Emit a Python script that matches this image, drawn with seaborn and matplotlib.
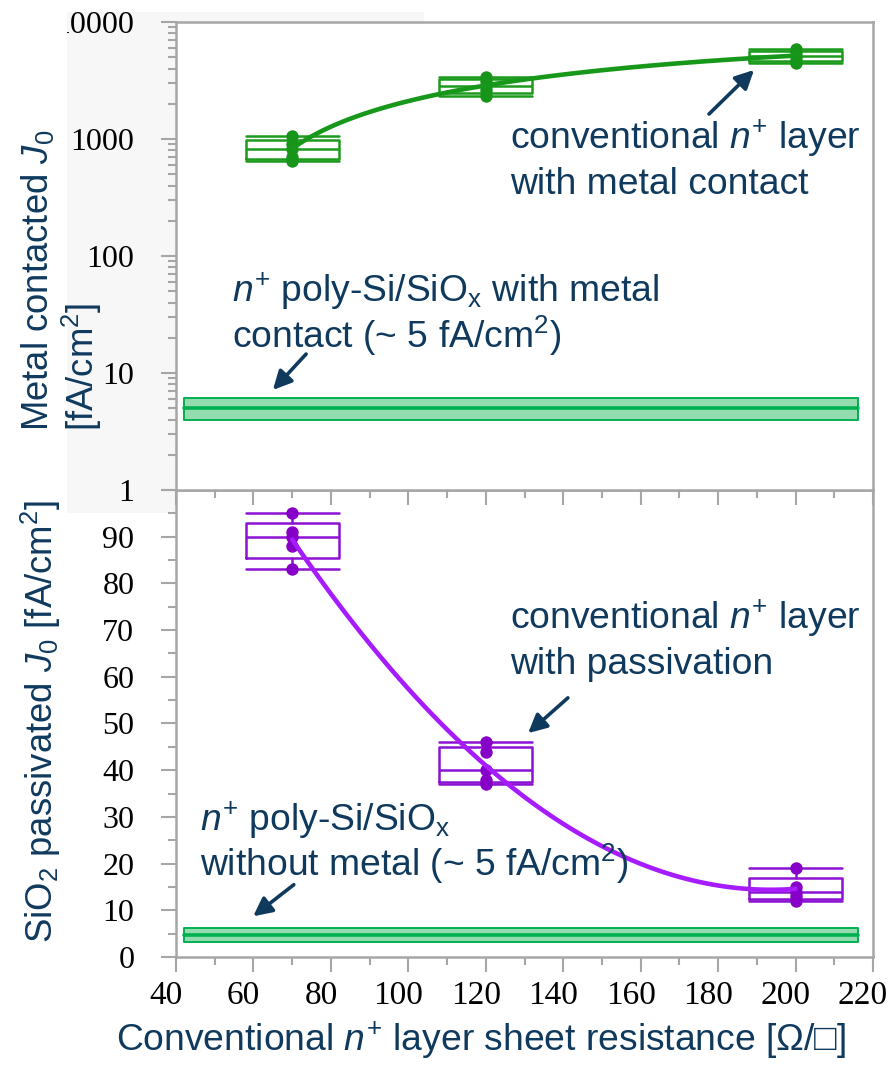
import numpy as np
import pandas as pd
import matplotlib
matplotlib.use("Agg")
import matplotlib.pyplot as plt
import seaborn as sns
from matplotlib.patches import Rectangle, FancyArrowPatch
from matplotlib.ticker import LogLocator, NullFormatter, MultipleLocator
from matplotlib.transforms import Bbox, TransformedBbox, ScaledTranslation

# ---------------------------------------------------------------- data
sheet_res = [70, 120, 200]                       # Ohm/sq
x_ticks = [40, 60, 80, 100, 120, 140, 160, 180, 200, 220]

# metal-contacted J0 of the conventional n+ layer [fA/cm2]
metal_j0_70 = [650, 700, 820, 910, 1060]
metal_j0_120 = [2350, 2600, 2850, 3150, 3400]
metal_j0_200 = [4500, 4750, 5150, 5500, 5900]

# SiO2-passivated J0 of the conventional n+ layer [fA/cm2]
passiv_j0_70 = [83, 88, 90, 91, 95]
passiv_j0_120 = [37, 38, 40, 44, 46]
passiv_j0_200 = [12, 13, 14, 15, 19]

# n+ poly-Si/SiOx reference ranges (low, typical, high) [fA/cm2]
poly_metal = [4.0, 5.0, 6.1]
poly_passiv = [3.2, 4.7, 6.2]
poly_span = [42, 216]

top_yticks = [1, 10, 100, 1000, 10000]
top_ylabels = ["1", "10", "100", "1000", "10000"]
bot_yticks = [0, 10, 20, 30, 40, 50, 60, 70, 80, 90, 100]
bot_ylabels = ["0", "10", "20", "30", "40", "50", "60", "70", "80", "90", ""]

# ---------------------------------------------------------------- style
W, H, DPI = 892, 1071, 100
sns.set_theme(style="white")
plt.rcParams["font.family"] = ["Liberation Sans", "DejaVu Sans"]
plt.rcParams["mathtext.fontset"] = "custom"
plt.rcParams["mathtext.rm"] = "Liberation Sans"
plt.rcParams["mathtext.it"] = "Liberation Sans:italic"
plt.rcParams["mathtext.bf"] = "Liberation Sans:bold"

NAVY = "#0f3a5e"
AXIS_GREY = "#a6a6a6"
GREEN_BOX = "#1c9a1c"
GREEN_DOT = "#17951a"
GREEN_LINE = "#18981a"
BAND_FILL = "#92dcb0"
BAND_EDGE = "#00b050"
PURPLE_BOX = "#8c12d2"
PURPLE_DOT = "#8600c8"
PURPLE_LINE = "#a61cff"
SERIF = "Liberation Serif"
TXT = 26.8        # annotations and x title
YTXT = 26.3       # y titles

fig = plt.figure(figsize=(W / DPI, H / DPI), dpi=DPI)
fig.patch.set_facecolor("white")


def fx(px):
    return px / W


def fy(py):
    return 1 - py / H


# light grey panel behind the upper y axis
grey_box = Rectangle((fx(67), fy(513)), fx(424) - fx(67), fy(12) - fy(513),
                     transform=fig.transFigure, facecolor="#f7f7f7",
                     edgecolor="none", zorder=-5)
fig.patches.append(grey_box)

ax_bot = fig.add_axes([fx(176), fy(957), fx(873) - fx(176), fy(490) - fy(957)])
ax_top = fig.add_axes([fx(176), fy(490), fx(873) - fx(176), fy(22) - fy(490)])
ax_top.set_zorder(2)
ax_bot.set_zorder(1)
for ax in (ax_top, ax_bot):
    ax.set_facecolor("white")
    ax.set_xlim(40, 220)
    for sp in ax.spines.values():
        sp.set_color(AXIS_GREY)
        sp.set_linewidth(1.8)

ax_top.set_yscale("log")
ax_top.set_ylim(1, 10000)
ax_bot.set_ylim(0, 100)


def box_stats(values):
    q1, med, q3 = np.percentile(values, [25, 50, 75], method="weibull")
    return dict(med=med, q1=q1, q3=q3, whislo=min(values), whishi=max(values),
                fliers=[])


def draw_group(ax, groups, box_color, dot_color, line_color):
    stats = [box_stats(g) for g in groups]
    lp = dict(color=box_color, linewidth=1.8)
    ax.bxp(stats, positions=sheet_res, widths=24, capwidths=24,
           showfliers=False, boxprops=lp, whiskerprops=lp, capprops=lp,
           medianprops=lp, manage_ticks=False, zorder=3)
    df = pd.DataFrame({"R": np.repeat(sheet_res, [len(g) for g in groups]),
                       "J0": np.concatenate(groups)})
    sns.scatterplot(data=df, x="R", y="J0", color=dot_color, s=80,
                    linewidth=0, zorder=4, ax=ax, legend=False)
    # second-order trend line through the group means
    means = pd.DataFrame({"R": sheet_res, "J0": [np.mean(g) for g in groups]})
    sns.regplot(data=means, x="R", y="J0", order=2, ci=None, scatter=False,
                truncate=True, color=line_color,
                line_kws=dict(linewidth=3.3, zorder=5), ax=ax)


def draw_band(ax, band):
    lo, mid, hi = band
    ax.fill_between(poly_span, [lo, lo], [hi, hi], facecolor=BAND_FILL,
                    edgecolor=BAND_EDGE, linewidth=1.4, zorder=2)
    sns.lineplot(x=poly_span, y=[mid, mid], color=BAND_EDGE, linewidth=2.6,
                 zorder=3, ax=ax)


draw_band(ax_top, poly_metal)
draw_band(ax_bot, poly_passiv)
draw_group(ax_top, [metal_j0_70, metal_j0_120, metal_j0_200],
           GREEN_BOX, GREEN_DOT, GREEN_LINE)
draw_group(ax_bot, [passiv_j0_70, passiv_j0_120, passiv_j0_200],
           PURPLE_BOX, PURPLE_DOT, PURPLE_LINE)

# ---------------------------------------------------------------- ticks
for ax in (ax_top, ax_bot):
    ax.set_xlim(40, 220)
    ax.set_xlabel("")
    ax.set_ylabel("")
    ax.set_xticks(x_ticks)
    ax.xaxis.set_minor_locator(MultipleLocator(10))

ax_top.set_yticks(top_yticks, top_ylabels)
ax_top.yaxis.set_minor_locator(LogLocator(base=10, subs=np.arange(2, 10)))
ax_top.yaxis.set_minor_formatter(NullFormatter())
ax_top.set_ylim(1, 10000)

ax_bot.set_yticks(bot_yticks, bot_ylabels)
ax_bot.yaxis.set_minor_locator(MultipleLocator(5))
ax_bot.set_ylim(0, 100)
ax_bot.set_xticks(x_ticks, [str(v) for v in x_ticks])

for ax in (ax_top, ax_bot):
    ax.tick_params(which="major", direction="out", length=11, width=1.5,
                   color=AXIS_GREY, labelcolor="black",
                   labelfontfamily=SERIF, labelsize=23)
    ax.tick_params(which="minor", direction="out", length=5.5, width=1.5,
                   color=AXIS_GREY)
    ax.tick_params(which="both", left=True, bottom=True, right=False,
                   top=False)
    ax.tick_params(axis="y", which="major", pad=19)
ax_top.tick_params(axis="x", labelbottom=False)
ax_bot.tick_params(axis="x", labelsize=24, pad=6)

# x labels sit slightly left of their ticks
shift = ScaledTranslation(-10 / DPI, 0, fig.dpi_scale_trans)
for lab in ax_bot.get_xticklabels():
    lab.set_transform(lab.get_transform() + shift)

# the leading digit of the top label sits outside the grey panel
clip = TransformedBbox(Bbox.from_extents(fx(67), fy(513), fx(424), fy(12)),
                       fig.transFigure)
top_label = ax_top.get_yticklabels()[-1]
top_label.set_clip_on(True)
top_label.set_clip_box(clip)

# ---------------------------------------------------------------- titles
fig.text(fx(38), fy(431), r"Metal contacted $\mathit{J_0}$", rotation=90,
         ha="center", va="bottom", color=NAVY, fontsize=YTXT)
fig.text(fx(82), fy(431), r"[fA/cm$^{2}$]", rotation=90,
         ha="center", va="bottom", color=NAVY, fontsize=YTXT)
fig.text(fx(41), fy(721), r"SiO$_{2}$ passivated $\mathit{J_0}$ [fA/cm$^{2}$]",
         rotation=90, ha="center", va="center", color=NAVY, fontsize=YTXT)
fig.text(fx(481), fy(1040),
         r"Conventional $\mathit{n}^{+}$ layer sheet resistance [Ω/□]",
         ha="center", va="center", color=NAVY, fontsize=TXT)


# ---------------------------------------------------------------- notes
def note(x, y, s):
    fig.text(fx(x), fy(y), s, ha="left", va="baseline", color=NAVY,
             fontsize=TXT)


def pointer(tail, head):
    fig.add_artist(FancyArrowPatch(
        (fx(tail[0]), fy(tail[1])), (fx(head[0]), fy(head[1])),
        transform=fig.transFigure, arrowstyle="-|>", mutation_scale=28,
        color=NAVY, linewidth=2.6, zorder=10))


note(510, 149, r"conventional $\mathit{n}^{+}$ layer")
note(510, 194, "with metal contact")
pointer((707, 116), (756, 68))

note(232, 302, r"$\mathit{n}^{+}$ poly-Si/SiO$_{\mathrm{x}}$ with metal")
note(232, 348, r"contact (~ 5 fA/cm$^{2}$)")
pointer((308, 352), (271, 392))

note(510, 629, r"conventional $\mathit{n}^{+}$ layer")
note(510, 674, "with passivation")
pointer((570, 696), (526, 735))

note(200, 831, r"$\mathit{n}^{+}$ poly-Si/SiO$_{\mathrm{x}}$")
note(200, 876, r"without metal (~ 5 fA/cm$^{2}$)")
pointer((296, 883), (251, 918))

fig.savefig("out.png", dpi=DPI, facecolor="white")
